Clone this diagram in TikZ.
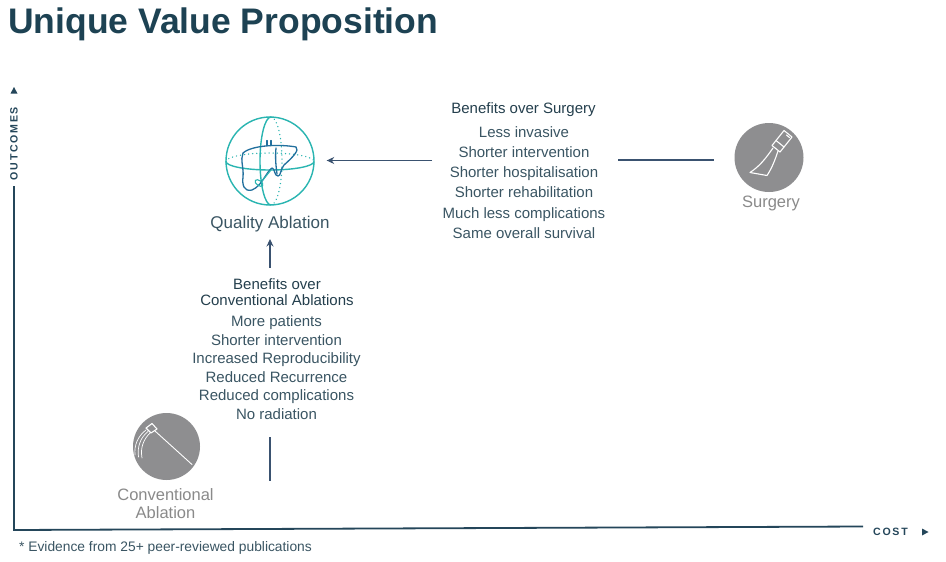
\documentclass[tikz,border=0pt]{standalone}
\usepackage{fontspec}
\setmainfont{Liberation Sans}
\usetikzlibrary{arrows.meta}
\definecolor{titlec}{HTML}{1D4253}
\definecolor{axisc}{HTML}{24465A}
\definecolor{headc}{HTML}{243F4D}
\definecolor{textc}{HTML}{3A5563}
\definecolor{arrc}{HTML}{3A5270}
\definecolor{grayc}{HTML}{8E8E90}
\definecolor{graytext}{HTML}{8A8A8A}
\definecolor{tealc}{HTML}{2AB5B1}
\definecolor{liverc}{HTML}{22709E}
\begin{document}
\begin{tikzpicture}[x=1pt,y=-1pt,
  axis/.style={draw=axisc,line width=1.8pt},
  axlabel/.style={text=axisc,font=\fontsize{10.6}{12}\selectfont\bfseries\addfontfeatures{LetterSpace=16},inner sep=0},
  body/.style={text=textc,font=\fontsize{15}{20.2}\selectfont,align=center,inner sep=0,anchor=base},
  head/.style={text=headc,font=\fontsize{15}{15.5}\selectfont,align=center,inner sep=0,anchor=base},
  arr/.style={draw=arrc,line width=1.1pt,-{Stealth[length=7.5pt,width=7pt]}},
  conn/.style={draw=arrc,line width=1.1pt},
  icon/.style={circle,fill=grayc,inner sep=0},
  glabel/.style={text=graytext,font=\fontsize{16.5}{18.3}\selectfont,align=center,inner sep=0,anchor=base},
  white line/.style={draw=white,line width=1.1pt,line cap=round,line join=round},
  sphere/.style={draw=tealc,line width=1.4pt},
  dotline/.style={draw=tealc,line width=1.4pt,dash pattern=on 0.1pt off 4pt,line cap=round},
  liver/.style={draw=liverc,line width=1.3pt,line join=round,line cap=round}
]
\useasboundingbox (0,0) rectangle (946,562);
\fill[white] (0,0) rectangle (946,562);

% title
\node[anchor=base west,text=titlec,font=\fontsize{35.5}{40}\selectfont\bfseries,inner sep=0] (title) at (8,34) {Unique Value Proposition};

% axes
\coordinate (ytop) at (14,186);
\coordinate (origin) at (14,530);
\coordinate (xend) at (863,526.5);
\draw[axis,line join=miter] (ytop) -- (origin) -- (xend);
\fill[axisc] (10.5,93.5) -- (17.5,93.5) -- (14,87) -- cycle;
\fill[axisc] (922,528.5) -- (922,535.5) -- (928.5,532) -- cycle;
\node[axlabel,rotate=90] (outcomes) at (14,143.5) {OUTCOMES};
\node[axlabel,anchor=west] (cost) at (873,532) {COST};

% footnote
\node[anchor=base west,text=textc,font=\fontsize{13.8}{16}\selectfont,inner sep=0] (foot) at (19,551.5) {* Evidence from 25+ peer-reviewed publications};

% quality ablation icon
\node[circle,sphere,minimum size=88pt,inner sep=0] (qa) at (270,161) {};
\begin{scope}[shift={(270,161.5)}]
  \draw[sphere] (44,0) arc[start angle=0,end angle=180,x radius=44,y radius=8.5];
  \draw[dotline] (-44,0) arc[start angle=180,end angle=360,x radius=44,y radius=8.5];
\end{scope}
\begin{scope}[shift={(271,161)}]
  \draw[sphere] (0,-44) arc[start angle=270,end angle=90,x radius=11,y radius=44];
  \draw[dotline] (0,-44) arc[start angle=-90,end angle=90,x radius=11,y radius=44];
\end{scope}
% liver
\draw[liver] (243,153) .. controls (252,145) and (280,144) .. (296,147)
  .. controls (300,150) and (292,158) .. (284,165)
  .. controls (280,170) and (281,176) .. (278,176)
  .. controls (274,176) and (275,168) .. (272,168)
  .. controls (266,172) and (262,186) .. (252,190)
  .. controls (244,192) and (242,185) .. (243,177)
  .. controls (244,168) and (240,160) .. (243,153) -- cycle;
\draw[liver] (276,148) .. controls (275,158) and (276,166) .. (277,174);
\draw[liver] (267,140.5) -- (267,145.5);
\draw[liver] (271,140.5) -- (271,145.5);
\draw[sphere,line width=1.1pt,rotate around={-35:(259,183)}] (259,183) ellipse[x radius=4.5,y radius=2.5];
\draw[sphere,line width=1.1pt] (262,181) -- (271,170);
\node[text=textc,font=\fontsize{17}{20}\selectfont,inner sep=0,anchor=base] (qalabel) at (270,228.5) {Quality Ablation};

% surgery
\node[icon,minimum size=69pt] (surg) at (769,157.5) {};
\draw[white line] (784,130.5) -- (792,137) -- (780,152) -- (772,145.5) -- cycle;
\draw[white line] (786.5,135) -- (789.5,137.5);
\draw[white line] (776,140.5) -- (784,147);
\draw[white line] (773,148) .. controls (766,158) and (760,166) .. (750,172.5) -- (767,175.5)
  .. controls (772,168) and (775,160) .. (778,151);
\node[glabel] (surglabel) at (771,207) {Surgery};
\coordinate (sb1) at (618,160);
\coordinate (sb2) at (714,160);
\draw[conn] (sb1) -- (sb2);

% surgery benefits
\node[head] (bsh) at (523.5,113.5) {Benefits over Surgery};
\node[body] (bs) at (524,238.3) {Less invasive\\Shorter intervention\\Shorter hospitalisation\\Shorter rehabilitation\\Much less complications\\Same overall survival};
\coordinate (sa) at (432,160.5);
\draw[arr,shorten >=12pt] (sa) -- (sa -| qa.east);

% conventional ablation
\node[icon,minimum size=67pt] (ca) at (166.5,446.5) {};
\draw[white line] (146,428) -- (152,423.5) -- (157,429) -- (151,433) -- cycle;
\draw[white line,line width=0.9pt] (155,431) -- (192,464.5);
\draw[white line,line width=0.7pt] (146,430) .. controls (138,436) and (134,445) .. (135,455);
\draw[white line,line width=0.7pt] (148,431.5) .. controls (141,437) and (137,446) .. (138.5,457);
\draw[white line,line width=0.7pt] (150,433) .. controls (144,439) and (140,447) .. (142,458);
\node[glabel] (calabel) at (165.5,518.3) {Conventional\\Ablation};

% conventional benefits
\node[head] (bch) at (277,305) {Benefits over\\Conventional Ablations};
\node[body,font=\fontsize{15}{18.55}\selectfont] (bc) at (276.5,419.4) {More patients\\Shorter intervention\\Increased Reproducibility\\Reduced Recurrence\\Reduced complications\\No radiation};
\coordinate (va1) at (270,267.5);
\coordinate (va2) at (270,239);
\draw[arr] (va1) -- (va2);
\coordinate (vl1) at (270,437);
\coordinate (vl2) at (270,481);
\draw[conn] (vl1) -- (vl2);
\end{tikzpicture}
\end{document}
